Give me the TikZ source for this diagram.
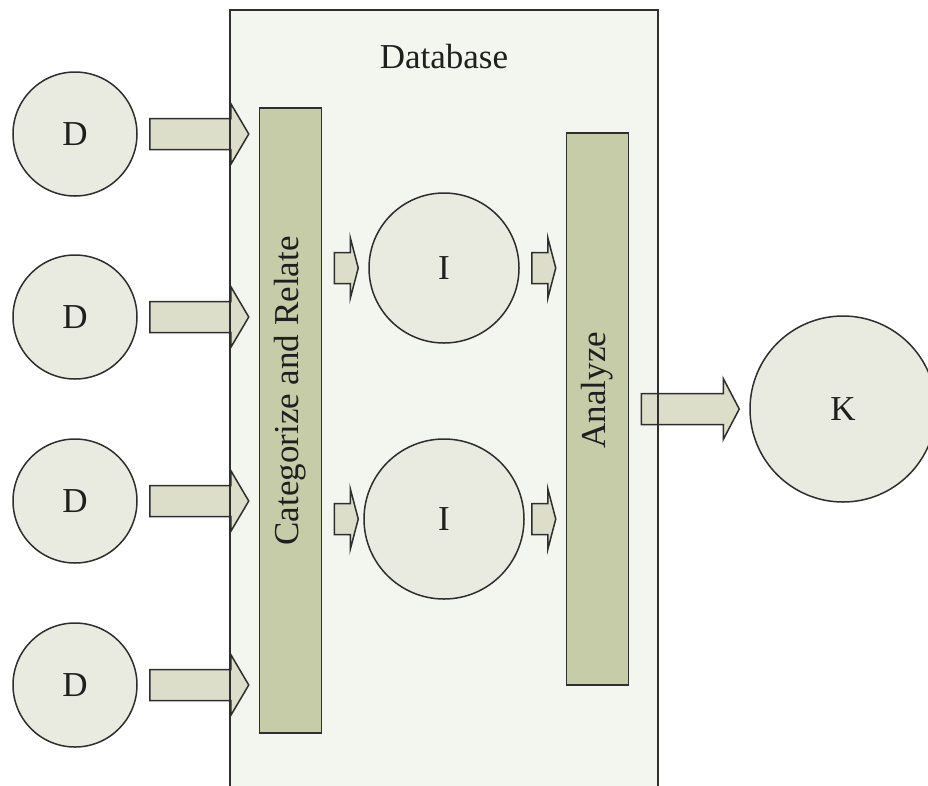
\documentclass[tikz,border=0pt]{standalone}
\usepackage{fontspec}
\setmainfont{Liberation Serif}
\usetikzlibrary{calc}

\definecolor{dbfill}{HTML}{F3F5EF}
\definecolor{blobfill}{HTML}{E9EAE0}
\definecolor{barfill}{HTML}{C6CCA7}
\definecolor{flowfill}{HTML}{DCDEC9}
\definecolor{ink}{HTML}{2E2E2E}

\tikzset{
  every node/.style={
    font=\fontsize{35}{42}\selectfont,
    text=black!88,
  },
  blob/.style={
    circle,
    draw=ink,
    fill=blobfill,
    line width=1.5pt,
    inner sep=0pt,
    minimum size=#1,
  },
  bar/.style={
    rectangle,
    draw=ink,
    fill=barfill,
    line width=1.5pt,
    inner sep=0pt,
    minimum width=62pt,
  },
  flow/.style={
    draw=ink,
    fill=flowfill,
    line width=1.5pt,
    to path={
      ($ (\tikztostart)+(12,-15.5) $)
      -- ($ (\tikztotarget)+(-10-#1,-15.5) $)
      -- ($ (\tikztotarget)+(-10-#1,-30.5) $)
      -- ($ (\tikztotarget)+(-10,0) $)
      -- ($ (\tikztotarget)+(-10-#1,30.5) $)
      -- ($ (\tikztotarget)+(-10-#1,15.5) $)
      -- ($ (\tikztostart)+(12,15.5) $)
      -- cycle
    },
  },
}

\begin{document}
\begin{tikzpicture}[x=1pt, y=-1pt]

  \useasboundingbox (0,0) rectangle (928,785);

  % database area
  \fill[dbfill] (230,10) rectangle (658,790);
  \node (dblabel) at (444,57) {Database};

  \node[bar, minimum height=625pt] (cat) at (290.5,420.5) {};
  \node[rotate=90] (catlabel) at (290.5,391) {Categorize and Relate};
  \node[bar, minimum height=552pt] (ana) at (597.5,409) {};
  \node[rotate=90] (analabel) at (597.5,390) {Analyze};

  \node[blob=150pt] (i1) at (444,268) {I};
  \node[blob=160pt] (i2) at (444,519) {I};
  \node[blob=186pt] (k) at (843,409) {K};

  \foreach \i/\y in {1/134,2/317,3/501,4/685} {
    \node[blob=124pt] (d\i) at (75,\y) {D};
    \draw[flow=18] (d\i.east) to (d\i.east -| cat.west);
  }

  % both rows of small arrows share the same x positions
  \foreach \i in {1,2} {
    \draw[flow=8] (cat.east |- i\i.center) to (i1.west |- i\i.center);
    \draw[flow=8] (i1.east |- i\i.center) to (ana.west |- i\i.center);
  }
  \draw[flow=16] (ana.east |- k.center) to (k.west);

  \draw[ink, line width=1.6pt] (230,790) -- (230,10) -- (658,10) -- (658,790);

\end{tikzpicture}
\end{document}
